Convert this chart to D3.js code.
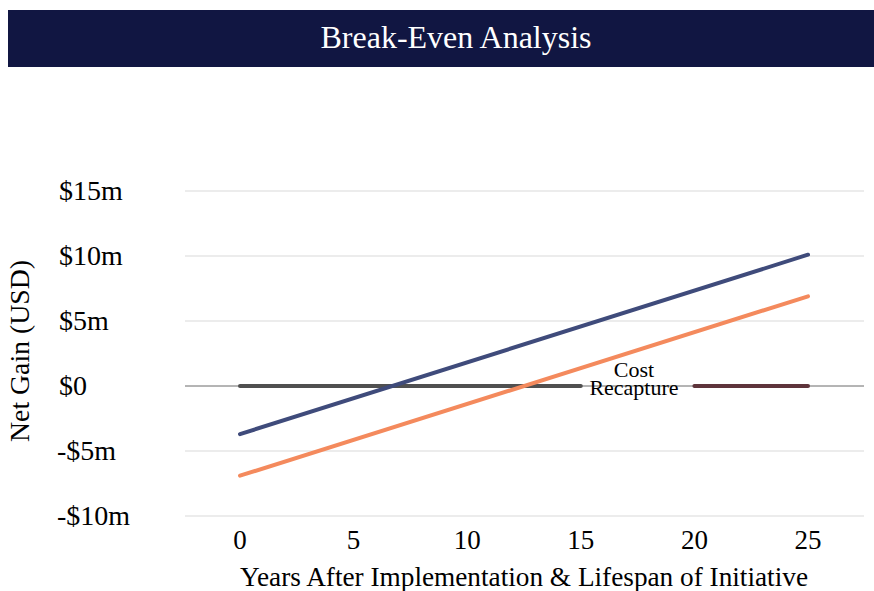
<!DOCTYPE html>
<html><head><meta charset="utf-8">
<script src="https://cdn.jsdelivr.net/npm/d3@7"></script>
<style>body{margin:0;background:#fff}svg{display:block;font-family:"Liberation Serif","Times New Roman",serif}</style>
</head><body><svg id="c" width="874" height="591"></svg>
<script>
const years = [0, 25];
const netGainA = [-3.7, 10.1];
const netGainB = [-6.9, 6.9];
const recaptureGray = [[0, 0], [15, 0]];
const recaptureRed = [[20, 0], [25, 0]];
const yTicks = [15, 10, 5, 0, -5, -10];
const yTickLabels = ["$15m", "$10m", "$5m", "$0", "-$5m", "-$10m"];
const xTicks = [0, 5, 10, 15, 20, 25];
const colors = {a: "#3f4b7b", b: "#f48a5d", gray: "#505050", red: "#5e343b"};

const svg = d3.select("#c");
svg.append("rect").attr("x", 8).attr("y", 10).attr("width", 866).attr("height", 57).attr("fill", "#111642");
svg.append("text").attr("x", 456).attr("y", 48).attr("text-anchor", "middle").attr("fill", "#fff")
  .attr("font-size", 32).text("Break-Even Analysis");

const x = d3.scaleLinear().domain([0, 25]).range([240, 808]);
const y = d3.scaleLinear().domain([-10, 15]).range([516, 191]);
const x0 = 185, x1 = 864;

svg.append("g").selectAll("line").data(yTicks).join("line")
  .attr("x1", x0).attr("x2", x1).attr("y1", d => y(d)).attr("y2", d => y(d))
  .attr("stroke", d => d === 0 ? "#6a6a6a" : "#d9d9d9").attr("stroke-width", 1);

svg.append("g").selectAll("text").data(yTicks).join("text")
  .attr("x", d => d < 0 ? 57 : 59).attr("y", d => y(d) + 9).attr("font-size", 28).attr("fill", "#000")
  .text((d, i) => yTickLabels[i]);

svg.append("g").selectAll("text").data(xTicks).join("text")
  .attr("x", d => x(d)).attr("y", 549).attr("text-anchor", "middle").attr("font-size", 27).text(d => d);

svg.append("text").attr("x", 524).attr("y", 586).attr("text-anchor", "middle").attr("font-size", 27)
  .attr("textLength", 568).attr("lengthAdjust", "spacingAndGlyphs")
  .text("Years After Implementation & Lifespan of Initiative");
svg.append("text").attr("transform", "translate(29,351) rotate(-90)").attr("text-anchor", "middle")
  .attr("font-size", 28).attr("textLength", 182).attr("lengthAdjust", "spacingAndGlyphs").text("Net Gain (USD)");

const line = d3.line().x(d => x(d[0])).y(d => y(d[1]));
function draw(pts, c) {
  svg.append("path").attr("d", line(pts)).attr("fill", "none").attr("stroke", c)
    .attr("stroke-width", 4).attr("stroke-linecap", "round");
}
draw(recaptureGray, colors.gray);
draw(recaptureRed, colors.red);
draw(years.map((v, i) => [v, netGainA[i]]), colors.a);
draw(years.map((v, i) => [v, netGainB[i]]), colors.b);

const lbl = svg.append("text").attr("text-anchor", "middle").attr("font-size", 22).attr("fill", "#000");
lbl.append("tspan").attr("x", 634).attr("y", 377).text("Cost");
lbl.append("tspan").attr("x", 634).attr("y", 395).text("Recapture");
</script></body></html>
